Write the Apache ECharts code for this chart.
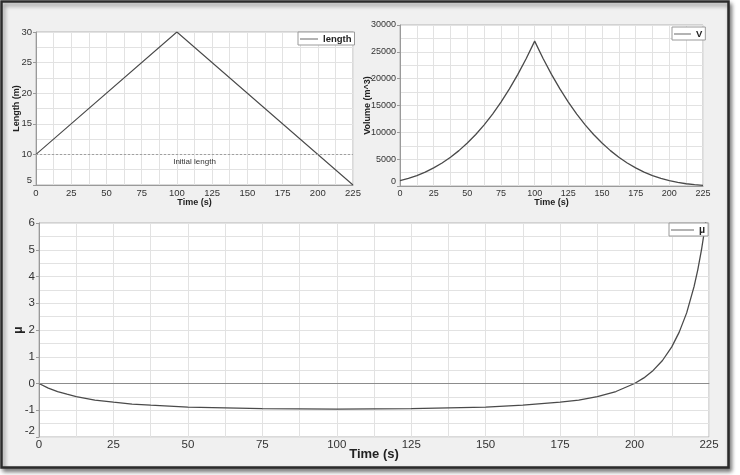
<!DOCTYPE html>
<html>
<head>
<meta charset="utf-8">
<script src="https://cdn.jsdelivr.net/npm/echarts@6/dist/echarts.min.js"></script>
<style>
html,body{margin:0;padding:0;background:#fff;}
#c{width:740px;height:475px;}
</style>
</head>
<body>
<div id="c"></div>
<script>
// ---- data ----
var timeL = [0, 100, 225];
var lengthVals = [10, 30, 5];
var initialLength = 10;

var timeV = [0, 6.25, 12.5, 18.75, 25, 31.25, 37.5, 43.75, 50, 56.25, 62.5, 68.75, 75, 81.25, 87.5, 93.75, 100,
  106.25, 112.5, 118.75, 125, 131.25, 137.5, 143.75, 150, 156.25, 162.5, 168.75, 175, 181.25, 187.5, 193.75, 200,
  206.25, 212.5, 218.75, 225];
var volumeVals = [1000, 1420, 1950, 2600, 3380, 4290, 5360, 6590, 8000, 9600, 11390, 13400, 15630, 18090, 20800, 23760, 27000,
  23760, 20800, 18090, 15630, 13400, 11390, 9600, 8000, 6590, 5360, 4290, 3380, 2600, 1950, 1420, 1000,
  670, 420, 245, 125];

var timeMu = [0, 3.125, 6.25, 9.375, 12.5, 18.75, 25, 31.25, 37.5, 50, 62.5, 75, 87.5, 100, 112.5, 125, 137.5, 150,
  162.5, 175, 181.25, 187.5, 193.75, 200, 203.125, 206.25, 209.375, 212.5, 215, 217.5, 220, 221.25, 222.5, 223.75, 225];
var muVals = [0, -0.17, -0.30, -0.40, -0.49, -0.62, -0.70, -0.77, -0.81, -0.88, -0.91, -0.94, -0.95, -0.96, -0.95, -0.94, -0.91, -0.88,
  -0.81, -0.70, -0.62, -0.49, -0.30, 0, 0.21, 0.49, 0.86, 1.37, 1.92, 2.64, 3.63, 4.26, 5.01, 5.91, 7.0];

var xTicks = {min: 0, max: 225, interval: 25};

function pairs(xs, ys) { return xs.map(function (x, i) { return [x, ys[i]]; }); }

var FONT = '"Liberation Sans", Arial, sans-serif';
var gridLine = '#e2e2e2';
var axisCol = '#9a9a9a';
var lineCol = '#4a4a4a';
function plain(v) { return String(v); }

function xAxis(gi, fs, nfs, nameGap, margin) {
  return {
    type: 'value', gridIndex: gi, min: xTicks.min, max: xTicks.max, interval: xTicks.interval,
    name: 'Time (s)', nameLocation: 'middle', nameGap: nameGap, nameMoveOverlap: false,
    nameTextStyle: {fontFamily: FONT, fontSize: nfs, fontWeight: 'bold', color: '#222'},
    axisLine: {show: true, lineStyle: {color: axisCol}},
    axisTick: {show: false},
    axisLabel: {fontFamily: FONT, fontSize: fs, color: '#333', margin: margin, formatter: plain},
    splitLine: {show: true, lineStyle: {color: gridLine}},
    minorTick: {show: false, splitNumber: 2},
    minorSplitLine: {show: true, lineStyle: {color: gridLine}}
  };
}
function yAxis(gi, name, min, max, interval, fs, nfs, nameGap) {
  return {
    type: 'value', gridIndex: gi, min: min, max: max, interval: interval,
    name: name, nameLocation: 'middle', nameGap: nameGap, nameRotate: 90, nameMoveOverlap: false,
    nameTextStyle: {fontFamily: FONT, fontSize: nfs, fontWeight: 'bold', color: '#222'},
    axisLine: {show: true, lineStyle: {color: axisCol}},
    axisTick: {show: true, length: 3, lineStyle: {color: axisCol}},
    axisLabel: {fontFamily: FONT, fontSize: fs, color: '#333', margin: 4, verticalAlignMinLabel: 'bottom', formatter: plain},
    splitLine: {show: true, lineStyle: {color: gridLine}},
    minorTick: {show: false, splitNumber: 2},
    minorSplitLine: {show: true, lineStyle: {color: gridLine}}
  };
}
function legend(name, left, top, iw, fs) {
  return {
    data: [name], left: left, top: top, orient: 'horizontal',
    icon: 'rect', itemWidth: iw, itemHeight: 1, itemGap: 0,
    itemStyle: {color: '#666'},
    padding: [2, 3, 1, 2],
    backgroundColor: '#fff', borderColor: '#9a9a9a', borderWidth: 1, borderRadius: 0,
    selectedMode: false,
    textStyle: {fontFamily: FONT, fontSize: fs, fontWeight: 'bold', color: '#222'}
  };
}

var chart = echarts.init(document.getElementById('c'), null, {renderer: 'canvas'});
chart.setOption({
  animation: false,
  backgroundColor: '#fff',
  graphic: [{
    type: 'rect', z: -10, silent: true,
    shape: {x: 1.5, y: 1.5, width: 727, height: 466},
    style: {fill: '#f0f0f0', stroke: '#2b2b2b', lineWidth: 2.5,
      shadowBlur: 4, shadowOffsetX: 2, shadowOffsetY: 3, shadowColor: 'rgba(0,0,0,0.45)'}
  }],
  grid: [
    {left: 36, top: 32, width: 317, height: 153, show: true, backgroundColor: '#fff', borderColor: '#b5b5b5', borderWidth: 1},
    {left: 400, top: 25, width: 303, height: 161, show: true, backgroundColor: '#fff', borderColor: '#b5b5b5', borderWidth: 1},
    {left: 39, top: 223, width: 670, height: 214, show: true, backgroundColor: '#fff', borderColor: '#b5b5b5', borderWidth: 1}
  ],
  xAxis: [xAxis(0, 9.5, 9, 13, 3), xAxis(1, 9, 9, 12, 3), xAxis(2, 11.5, 13, 11, 2)],
  yAxis: [
    yAxis(0, 'Length (m)', 5, 30, 5, 9.5, 9, 15),
    yAxis(1, 'Volume (m^3)', 0, 30000, 5000, 9, 9, 28),
    yAxis(2, 'μ', -2, 6, 1, 11.5, 12, 14)
  ],
  legend: [
    legend('length', 298, 32, 18, 9.5),
    legend('V', 672, 27, 17, 9.5),
    legend('μ', 669, 223, 23, 10)
  ],
  series: [
    {
      name: 'length', type: 'line', xAxisIndex: 0, yAxisIndex: 0, symbol: 'none',
      lineStyle: {color: lineCol, width: 1.1}, itemStyle: {color: lineCol},
      data: pairs(timeL, lengthVals),
      markLine: {
        silent: true, symbol: ['none', 'none'],
        lineStyle: {color: '#a0a0a0', type: [2, 2], width: 1},
        label: {show: true, position: 'insideMiddleBottom', formatter: 'Initial length',
          fontFamily: FONT, fontSize: 8, color: '#333', distance: 3},
        data: [{yAxis: initialLength}]
      }
    },
    {
      name: 'V', type: 'line', xAxisIndex: 1, yAxisIndex: 1, symbol: 'none',
      lineStyle: {color: lineCol, width: 1.3}, itemStyle: {color: lineCol},
      data: pairs(timeV, volumeVals)
    },
    {
      name: 'μ', type: 'line', xAxisIndex: 2, yAxisIndex: 2, symbol: 'none', clip: true,
      lineStyle: {color: lineCol, width: 1.3}, itemStyle: {color: lineCol},
      data: pairs(timeMu, muVals),
      markLine: {
        silent: true, symbol: ['none', 'none'],
        lineStyle: {color: '#8c8c8c', type: 'solid', width: 1},
        label: {show: false},
        data: [{yAxis: 0}]
      }
    }
  ]
});
</script>
</body>
</html>
